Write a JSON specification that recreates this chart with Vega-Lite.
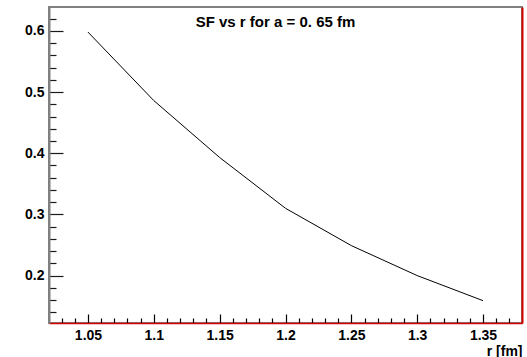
{
  "$schema": "https://vega.github.io/schema/vega-lite/v6.json",
  "width": 473,
  "height": 316,
  "autosize": {"type": "none"},
  "padding": {"left": 49, "top": 7, "right": 5, "bottom": 34},
  "background": "white",
  "config": {
    "view": {"stroke": "#808080", "strokeWidth": 2},
    "font": "Liberation Sans"
  },
  "title": {
    "text": "SF vs r for a = 0. 65 fm",
    "font": "Liberation Sans",
    "fontSize": 15,
    "fontWeight": "bold",
    "color": "black",
    "anchor": "middle",
    "frame": "group",
    "baseline": "alphabetic",
    "offset": 0,
    "dx": -10,
    "dy": 35
  },
  "data": {
    "values": [
      {"r": 1.05, "sf": 0.598},
      {"r": 1.10, "sf": 0.486},
      {"r": 1.15, "sf": 0.393},
      {"r": 1.20, "sf": 0.310},
      {"r": 1.25, "sf": 0.249},
      {"r": 1.30, "sf": 0.200},
      {"r": 1.35, "sf": 0.159}
    ]
  },
  "layer": [
    {
      "mark": {"type": "line", "opacity": 0},
      "encoding": {
        "x": {
          "field": "r", "type": "quantitative",
          "scale": {"domain": [1.0204, 1.3796], "nice": false, "zero": false},
          "axis": {
            "orient": "top", "offset": -316,
            "values": [1.05, 1.1, 1.15, 1.2, 1.25, 1.3, 1.35],
            "title": null, "labels": false, "domain": false, "grid": false,
            "tickColor": "black", "tickSize": 9, "tickWidth": 1.2
          }
        },
        "y": {
          "field": "sf", "type": "quantitative",
          "scale": {"domain": [0.1225, 0.639], "nice": false, "zero": false},
          "axis": {
            "orient": "right", "offset": -473,
            "values": [0.2, 0.3, 0.4, 0.5, 0.6],
            "title": null, "labels": false, "domain": false, "grid": false,
            "tickColor": "#1a1a1a", "tickSize": 14, "tickWidth": 1.2
          }
        }
      }
    },
    {
      "mark": {"type": "line", "opacity": 0},
      "encoding": {
        "x": {
          "field": "r", "type": "quantitative",
          "scale": {"domain": [1.0204, 1.3796], "nice": false, "zero": false},
          "axis": {
            "orient": "top", "offset": -316,
            "values": [1.03, 1.04, 1.06, 1.07, 1.08, 1.09, 1.11, 1.12, 1.13, 1.14, 1.16, 1.17, 1.18, 1.19, 1.21, 1.22, 1.23, 1.24, 1.26, 1.27, 1.28, 1.29, 1.31, 1.32, 1.33, 1.34, 1.36, 1.37],
            "title": null, "labels": false, "domain": false, "grid": false,
            "tickColor": "black", "tickSize": 5, "tickWidth": 1.2
          }
        },
        "y": {
          "field": "sf", "type": "quantitative",
          "scale": {"domain": [0.1225, 0.639], "nice": false, "zero": false},
          "axis": {
            "orient": "right", "offset": -473,
            "values": [0.14, 0.16, 0.18, 0.22, 0.24, 0.26, 0.28, 0.32, 0.34, 0.36, 0.38, 0.42, 0.44, 0.46, 0.48, 0.52, 0.54, 0.56, 0.58, 0.62],
            "title": null, "labels": false, "domain": false, "grid": false,
            "tickColor": "#1a1a1a", "tickSize": 7, "tickWidth": 1.2
          }
        }
      }
    },
    {
      "mark": {"type": "line", "opacity": 0},
      "encoding": {
        "y": {
          "field": "sf", "type": "quantitative",
          "scale": {"domain": [0.1225, 0.639], "nice": false, "zero": false},
          "axis": {
            "orient": "right",
            "title": null, "labels": false, "ticks": false, "grid": false,
            "domainColor": "#d40000", "domainWidth": 2
          }
        }
      }
    },
    {
      "mark": {"type": "line", "color": "black", "strokeWidth": 1},
      "encoding": {
        "x": {
          "field": "r", "type": "quantitative",
          "scale": {"domain": [1.0204, 1.3796], "nice": false, "zero": false},
          "axis": {
            "orient": "bottom",
            "values": [1.05, 1.1, 1.15, 1.2, 1.25, 1.3, 1.35],
            "format": "~g",
            "title": "r [fm]",
            "titleFont": "Liberation Sans", "titleFontSize": 14, "titleFontWeight": "bold", "titleColor": "black",
            "titleAnchor": "end", "titleAlign": "right", "titleBaseline": "alphabetic",
            "titleX": 473, "titleY": 32,
            "domainColor": "#d40000", "domainWidth": 1.5,
            "ticks": false,
            "labelFont": "Liberation Sans", "labelFontSize": 14, "labelFontWeight": "bold", "labelColor": "black",
            "labelPadding": 5, "labelBaseline": "top", "grid": false
          }
        },
        "y": {
          "field": "sf", "type": "quantitative",
          "scale": {"domain": [0.1225, 0.639], "nice": false, "zero": false},
          "axis": {
            "orient": "left",
            "values": [0.2, 0.3, 0.4, 0.5, 0.6],
            "format": ".1f",
            "title": null,
            "domainColor": "#808080", "domainWidth": 2,
            "ticks": false,
            "labelFont": "Liberation Sans", "labelFontSize": 14, "labelFontWeight": "bold", "labelColor": "black",
            "labelPadding": 5, "grid": false
          }
        }
      }
    }
  ],
  "resolve": {"axis": {"x": "independent", "y": "independent"}}
}
